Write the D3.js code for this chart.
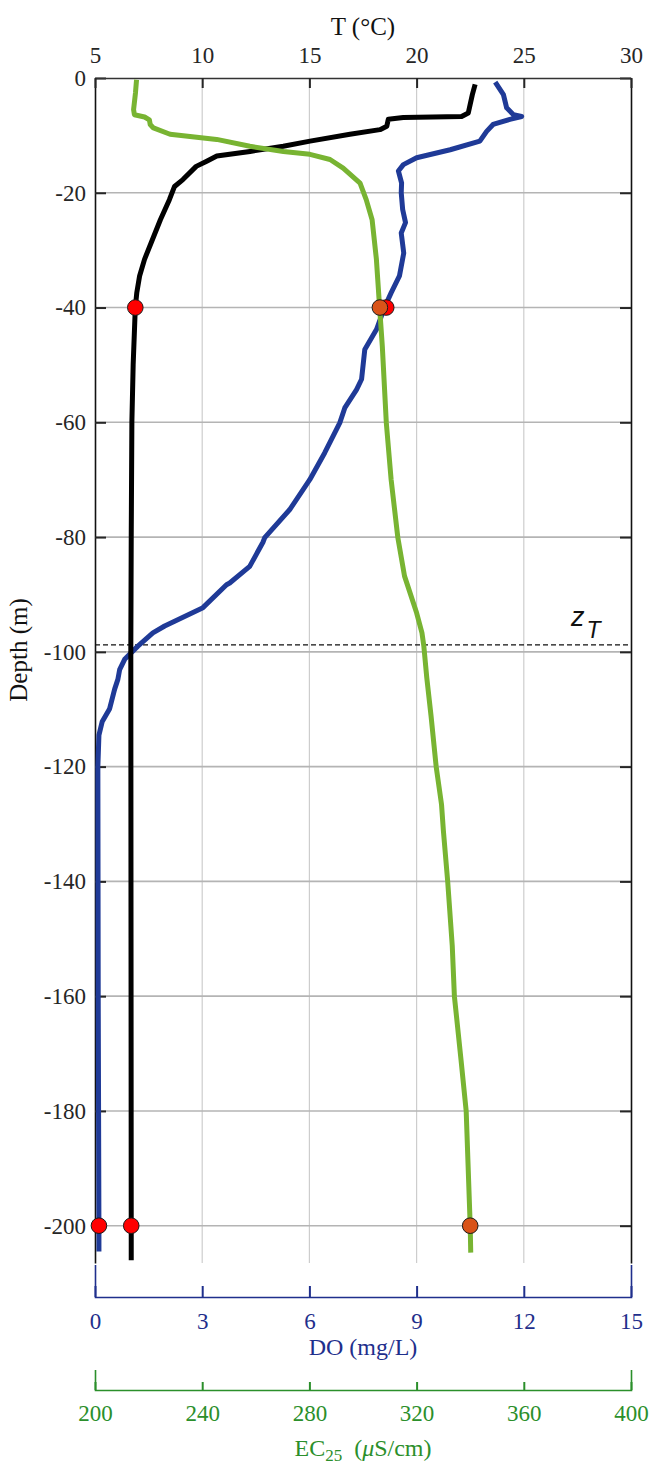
<!DOCTYPE html>
<html><head><meta charset="utf-8">
<script src="https://cdn.jsdelivr.net/npm/d3@7"></script>
<style>body{margin:0;background:#fff} svg{display:block}</style>
</head><body>
<svg id="chart" width="650" height="1464"></svg>
<script>
// ---------- data ----------
const depthTicks = [0,-20,-40,-60,-80,-100,-120,-140,-160,-180,-200];
const tTicks = [5,10,15,20,25,30];
const doTicks = [0,3,6,9,12,15];
const ecTicks = [200,240,280,320,360,400];

// Temperature profile (black)
const tempDepth = [-1.1,-2.9,-6.1,-6.7,-6.9,-7.2,-8.4,-9.0,-9.8,-11.0,-11.9,-12.8,-13.6,-14.5,-15.4,-17.7,-18.9,-21.2,-24.7,-28.7,-31.6,-34.5,-37.4,-40,-50,-60,-80,-100,-150,-200,-206];
const tempValue = [22.73,22.6,22.41,22.1,19.38,18.68,18.61,18.29,16.89,15.03,13.78,12.23,10.68,10.21,9.72,9.10,8.71,8.47,8.05,7.62,7.31,7.08,6.95,6.88,6.78,6.72,6.69,6.67,6.68,6.69,6.69];

// Dissolved oxygen profile (blue)
const doDepth = [-0.7,-2.9,-5.2,-6.4,-6.7,-7.2,-8.1,-9.3,-11.0,-12.5,-13.9,-15.1,-16.2,-18.3,-20,-22.9,-25.2,-27.0,-30.5,-34.5,-37.4,-40,-43.8,-47.3,-52.5,-54.3,-57.5,-60.1,-65.3,-70,-75.2,-80.1,-80.9,-85.1,-88.0,-88.3,-92.3,-95.5,-96.7,-99.0,-101.3,-103.1,-104.8,-106.5,-109.9,-112.2,-114.5,-120,-160,-200,-204.5];
const doValue = [11.2,11.43,11.52,11.71,11.94,11.61,11.14,10.96,10.77,9.94,9.0,8.63,8.49,8.58,8.57,8.61,8.69,8.57,8.64,8.52,8.29,8.1,7.88,7.55,7.46,7.32,6.99,6.85,6.43,6.01,5.45,4.75,4.70,4.33,3.77,3.68,3.02,1.95,1.62,1.2,0.83,0.69,0.64,0.55,0.41,0.2,0.11,0.08,0.09,0.11,0.11];

// Electrical conductivity profile (green)
const ecDepth = [-0.3,-2.6,-5.5,-6.4,-6.8,-7.3,-8.1,-8.7,-9.8,-10.7,-11.9,-12.8,-13.3,-14.2,-15.7,-18.3,-21.2,-24.7,-31.6,-35.1,-40,-46.7,-60.1,-70,-80.1,-86.8,-93.2,-96.7,-99.0,-104.5,-111.2,-120,-126.6,-131.2,-140,-151.2,-160,-171.2,-180,-200,-204.7];
const ecValue = [215.5,215.1,214.4,214.7,218.5,220.3,220.6,221.8,228.0,245.4,257.8,270.3,280.2,287.7,292.6,298.9,301.2,303.4,305.0,305.5,306.2,307.2,308.7,310.5,313.0,315.5,320.0,322.0,322.7,323.8,325.4,327.3,329.3,330.0,331.6,333.3,334.1,336.6,338.5,340.0,340.2];

// Sample points
const sampleDepth = [-40,-200];
const sampleT = [6.88,6.69];
const sampleDO = [8.15,0.11];
const sampleEC = [306.3,340.0];

const thermoclineDepth = -98.8;

// ---------- layout ----------
const L = 95, R = 631, TOP = 78, BOT = 1263;
const svg = d3.select("#chart");
const serif = "'Liberation Serif','Times New Roman',serif";
const blueLine = "#1f3a97", blueAxis = "#1f2f8c";
const greenLine = "#78b432", greenAxis = "#2b8f2b";

const y = d3.scaleLinear().domain([0,-206.5]).range([TOP,BOT]);
const xT = d3.scaleLinear().domain([5,30]).range([L,R]);
const xDO = d3.scaleLinear().domain([0,15]).range([L,R]);
const xEC = d3.scaleLinear().domain([200,400]).range([L,R]);

svg.append("rect").attr("width",650).attr("height",1464).attr("fill","#fff");

// grid
svg.append("g").selectAll("line").data(tTicks.slice(1,-1)).join("line")
  .attr("x1",d=>xT(d)).attr("x2",d=>xT(d)).attr("y1",TOP).attr("y2",BOT)
  .attr("stroke","#cdcdcd").attr("stroke-width",1.2);
svg.append("g").selectAll("line").data(depthTicks.filter(d=>d!==0)).join("line")
  .attr("x1",L).attr("x2",R).attr("y1",d=>y(d)).attr("y2",d=>y(d))
  .attr("stroke","#b4b4b4").attr("stroke-width",1.6);

function styleAxis(g, color, fs){
  g.attr("font-family",serif).attr("font-size",fs);
  g.selectAll("text").attr("fill",color);
  g.selectAll(".tick line").attr("stroke",color).attr("stroke-width",2);
  g.select(".domain").attr("stroke",color).attr("stroke-width",1.6);
}

// left axis
const gl = svg.append("g").attr("transform",`translate(${L},0)`)
  .call(d3.axisLeft(y).tickValues(depthTicks).tickSizeInner(-11).tickSizeOuter(0).tickPadding(9).tickFormat(d=>String(d)));
styleAxis(gl,"#262626",23);
gl.select(".domain").attr("stroke","#111");
// right axis
const gr = svg.append("g").attr("transform",`translate(${R},0)`)
  .call(d3.axisRight(y).tickValues(depthTicks).tickSizeInner(-11).tickSizeOuter(0).tickFormat(""));
styleAxis(gr,"#262626",23);
gr.select(".domain").attr("stroke","#111");
// top axis
const gt = svg.append("g").attr("transform",`translate(0,${TOP})`)
  .call(d3.axisTop(xT).tickValues(tTicks).tickSizeInner(-10).tickSizeOuter(0).tickPadding(15).tickFormat(d=>String(d)));
styleAxis(gt,"#262626",23);
gt.select(".domain").attr("stroke","#333");

// DO axis
const gd = svg.append("g").attr("transform","translate(0,1297)")
  .call(d3.axisBottom(xDO).tickValues(doTicks).tickSizeInner(-11).tickSizeOuter(-32).tickPadding(16).tickFormat(d=>String(d)));
styleAxis(gd,blueAxis,23);
// EC axis
const ge = svg.append("g").attr("transform","translate(0,1390)")
  .call(d3.axisBottom(xEC).tickValues(ecTicks).tickSizeInner(-8).tickSizeOuter(-20).tickPadding(15).tickFormat(d=>String(d)));
styleAxis(ge,greenAxis,23);

// thermocline line
svg.append("line").attr("x1",L).attr("x2",R).attr("y1",y(thermoclineDepth)).attr("y2",y(thermoclineDepth))
  .attr("stroke","#111").attr("stroke-width",1.2).attr("stroke-dasharray","5,3");
const zt = svg.append("text").attr("x",571).attr("y",626)
  .attr("font-family","'Liberation Sans',Arial,sans-serif").attr("font-style","italic").attr("fill","#111");
zt.append("tspan").attr("font-size",27).text("z");
zt.append("tspan").attr("font-size",23).attr("dy",12).attr("dx",2).text("T");

// profiles
const zip = (ds, vs) => ds.map((d,i)=>({d, v: vs[i]}));
function profile(data, xs, color){
  svg.append("path").datum(data)
    .attr("d", d3.line().x(p=>xs(p.v)).y(p=>y(p.d)))
    .attr("fill","none").attr("stroke",color).attr("stroke-width",5)
    .attr("stroke-linejoin","round").attr("stroke-linecap","butt");
}
profile(zip(doDepth,doValue), xDO, blueLine);
profile(zip(tempDepth,tempValue), xT, "#000");
profile(zip(ecDepth,ecValue), xEC, greenLine);

// sample markers
function dots(vals, xs, color){
  svg.append("g").selectAll("circle").data(sampleDepth.map((d,i)=>({d, v: vals[i]}))).join("circle")
    .attr("cx",p=>xs(p.v)).attr("cy",p=>y(p.d)).attr("r",7.8)
    .attr("fill",color).attr("stroke","#1a1a1a").attr("stroke-width",1);
}
dots(sampleT, xT, "#ff0000");
dots(sampleDO, xDO, "#ff0000");
dots(sampleEC, xEC, "#d95319");

// titles
svg.append("text").attr("x",(L+R)/2).attr("y",35).attr("text-anchor","middle")
  .attr("font-family",serif).attr("font-size",25).attr("fill","#111").text("T (°C)");
svg.append("text").attr("transform","translate(27,650) rotate(-90)").attr("text-anchor","middle")
  .attr("font-family",serif).attr("font-size",25).attr("fill","#111").text("Depth (m)");
svg.append("text").attr("x",(L+R)/2).attr("y",1355).attr("text-anchor","middle")
  .attr("font-family",serif).attr("font-size",24).attr("fill",blueAxis).text("DO (mg/L)");
const ect = svg.append("text").attr("x",(L+R)/2).attr("y",1456).attr("text-anchor","middle")
  .attr("font-family",serif).attr("font-size",24).attr("fill",greenAxis);
ect.append("tspan").text("EC");
ect.append("tspan").attr("font-size",17).attr("dy",5).text("25");
ect.append("tspan").attr("dy",-5).attr("xml:space","preserve").text("\u00a0\u00a0(");
ect.append("tspan").attr("font-style","italic").text("\u03bc");
ect.append("tspan").text("S/cm)");
</script>
</body></html>
